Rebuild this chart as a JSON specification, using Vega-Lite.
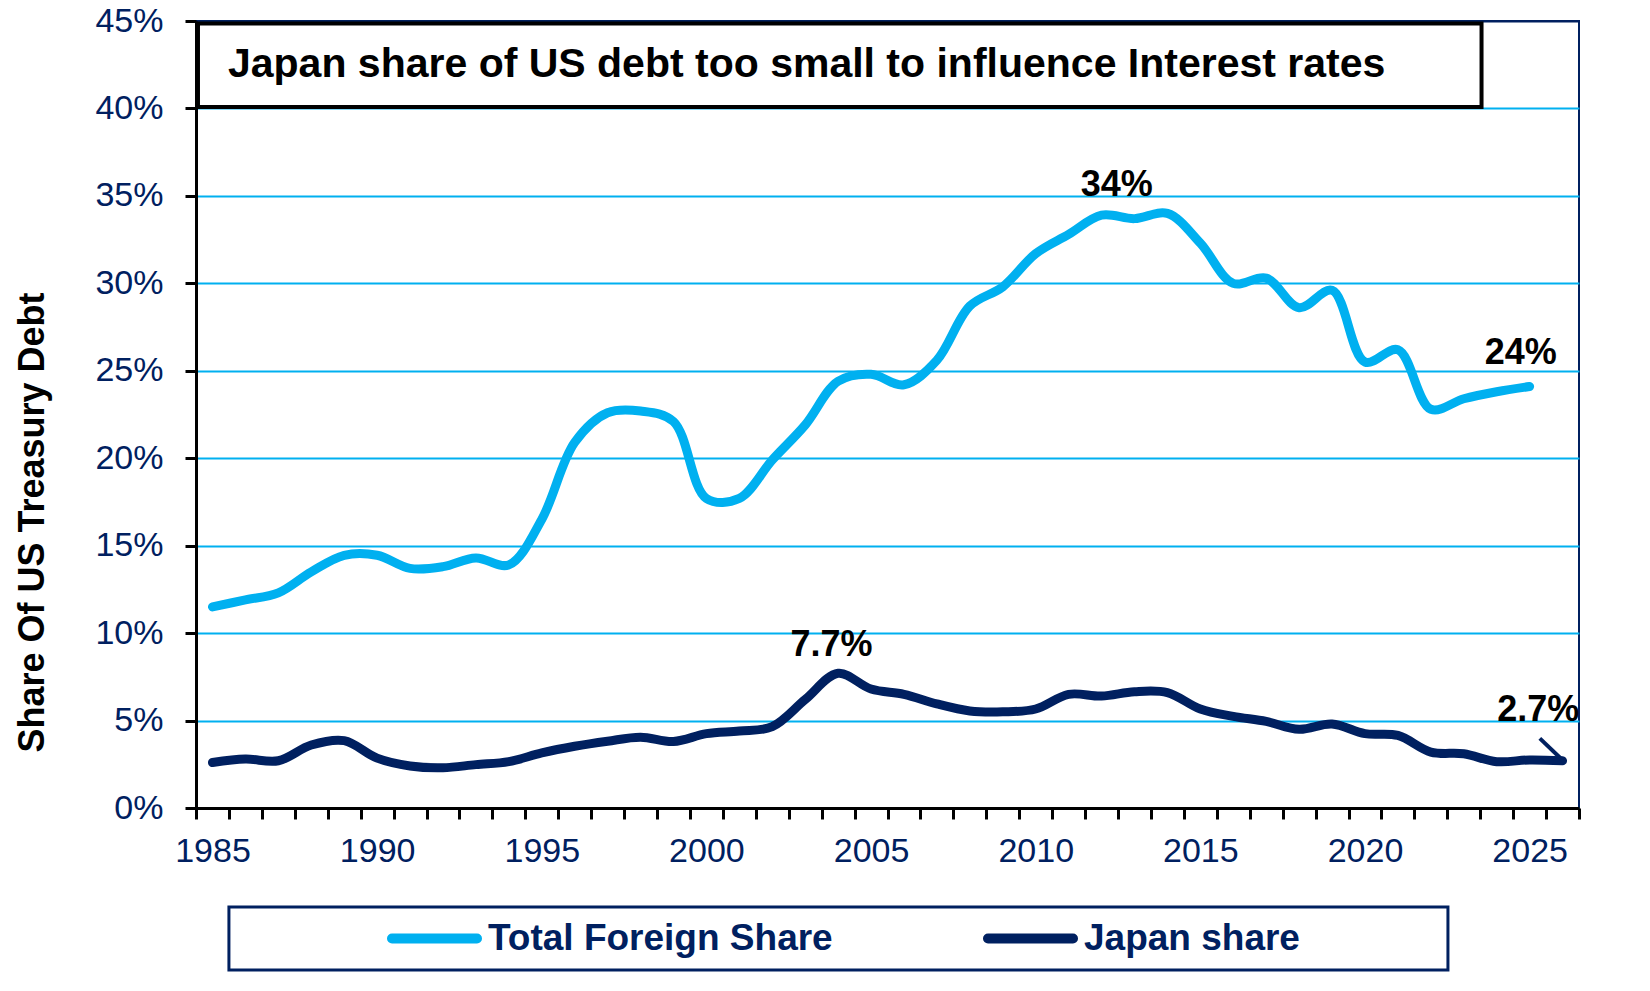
{
  "$schema": "https://vega.github.io/schema/vega-lite/v6.json",
  "width": 1383,
  "height": 787,
  "autosize": {"type": "none"},
  "padding": {"left": 196, "top": 21, "right": 71, "bottom": 183},
  "background": "white",
  "config": {
    "font": "Liberation Sans",
    "view": {"stroke": "#002060", "strokeWidth": 2},
    "axis": {"labelOverlap": false, "labelFlush": false}
  },
  "layer": [
    {
      "data": {
        "values": [
          {"year": 1985, "series": "Total Foreign Share", "share": 0.115},
          {"year": 1986, "series": "Total Foreign Share", "share": 0.119},
          {"year": 1987, "series": "Total Foreign Share", "share": 0.123},
          {"year": 1988, "series": "Total Foreign Share", "share": 0.135},
          {"year": 1989, "series": "Total Foreign Share", "share": 0.1445},
          {"year": 1990, "series": "Total Foreign Share", "share": 0.1445},
          {"year": 1991, "series": "Total Foreign Share", "share": 0.137},
          {"year": 1992, "series": "Total Foreign Share", "share": 0.138},
          {"year": 1993, "series": "Total Foreign Share", "share": 0.143},
          {"year": 1994, "series": "Total Foreign Share", "share": 0.139},
          {"year": 1995, "series": "Total Foreign Share", "share": 0.165},
          {"year": 1996, "series": "Total Foreign Share", "share": 0.209},
          {"year": 1997, "series": "Total Foreign Share", "share": 0.226},
          {"year": 1998, "series": "Total Foreign Share", "share": 0.227},
          {"year": 1999, "series": "Total Foreign Share", "share": 0.221},
          {"year": 2000, "series": "Total Foreign Share", "share": 0.177},
          {"year": 2001, "series": "Total Foreign Share", "share": 0.177},
          {"year": 2002, "series": "Total Foreign Share", "share": 0.199},
          {"year": 2003, "series": "Total Foreign Share", "share": 0.219},
          {"year": 2004, "series": "Total Foreign Share", "share": 0.244},
          {"year": 2005, "series": "Total Foreign Share", "share": 0.248},
          {"year": 2006, "series": "Total Foreign Share", "share": 0.242},
          {"year": 2007, "series": "Total Foreign Share", "share": 0.256},
          {"year": 2008, "series": "Total Foreign Share", "share": 0.287},
          {"year": 2009, "series": "Total Foreign Share", "share": 0.298},
          {"year": 2010, "series": "Total Foreign Share", "share": 0.317},
          {"year": 2011, "series": "Total Foreign Share", "share": 0.328},
          {"year": 2012, "series": "Total Foreign Share", "share": 0.339},
          {"year": 2013, "series": "Total Foreign Share", "share": 0.337},
          {"year": 2014, "series": "Total Foreign Share", "share": 0.34},
          {"year": 2015, "series": "Total Foreign Share", "share": 0.323},
          {"year": 2016, "series": "Total Foreign Share", "share": 0.3},
          {"year": 2017, "series": "Total Foreign Share", "share": 0.303},
          {"year": 2018, "series": "Total Foreign Share", "share": 0.286},
          {"year": 2019, "series": "Total Foreign Share", "share": 0.296},
          {"year": 2020, "series": "Total Foreign Share", "share": 0.255},
          {"year": 2021, "series": "Total Foreign Share", "share": 0.262},
          {"year": 2022, "series": "Total Foreign Share", "share": 0.228},
          {"year": 2023, "series": "Total Foreign Share", "share": 0.234},
          {"year": 2024, "series": "Total Foreign Share", "share": 0.238},
          {"year": 2025, "series": "Total Foreign Share", "share": 0.241},
          {"year": 1985, "series": "Japan share", "share": 0.026},
          {"year": 1986, "series": "Japan share", "share": 0.028},
          {"year": 1987, "series": "Japan share", "share": 0.027},
          {"year": 1988, "series": "Japan share", "share": 0.036},
          {"year": 1989, "series": "Japan share", "share": 0.0385},
          {"year": 1990, "series": "Japan share", "share": 0.0285},
          {"year": 1991, "series": "Japan share", "share": 0.024},
          {"year": 1992, "series": "Japan share", "share": 0.023},
          {"year": 1993, "series": "Japan share", "share": 0.0248},
          {"year": 1994, "series": "Japan share", "share": 0.0265},
          {"year": 1995, "series": "Japan share", "share": 0.0315},
          {"year": 1996, "series": "Japan share", "share": 0.0353},
          {"year": 1997, "series": "Japan share", "share": 0.0382},
          {"year": 1998, "series": "Japan share", "share": 0.0405},
          {"year": 1999, "series": "Japan share", "share": 0.038},
          {"year": 2000, "series": "Japan share", "share": 0.0425},
          {"year": 2001, "series": "Japan share", "share": 0.044},
          {"year": 2002, "series": "Japan share", "share": 0.0465},
          {"year": 2003, "series": "Japan share", "share": 0.062},
          {"year": 2004, "series": "Japan share", "share": 0.077},
          {"year": 2005, "series": "Japan share", "share": 0.068},
          {"year": 2006, "series": "Japan share", "share": 0.065},
          {"year": 2007, "series": "Japan share", "share": 0.0595},
          {"year": 2008, "series": "Japan share", "share": 0.0555},
          {"year": 2009, "series": "Japan share", "share": 0.055},
          {"year": 2010, "series": "Japan share", "share": 0.0566},
          {"year": 2011, "series": "Japan share", "share": 0.065},
          {"year": 2012, "series": "Japan share", "share": 0.064},
          {"year": 2013, "series": "Japan share", "share": 0.0665},
          {"year": 2014, "series": "Japan share", "share": 0.066},
          {"year": 2015, "series": "Japan share", "share": 0.0566},
          {"year": 2016, "series": "Japan share", "share": 0.0524},
          {"year": 2017, "series": "Japan share", "share": 0.0495},
          {"year": 2018, "series": "Japan share", "share": 0.045},
          {"year": 2019, "series": "Japan share", "share": 0.048},
          {"year": 2020, "series": "Japan share", "share": 0.0425},
          {"year": 2021, "series": "Japan share", "share": 0.0415},
          {"year": 2022, "series": "Japan share", "share": 0.032},
          {"year": 2023, "series": "Japan share", "share": 0.031},
          {"year": 2024, "series": "Japan share", "share": 0.0265},
          {"year": 2025, "series": "Japan share", "share": 0.0275},
          {"year": 2026, "series": "Japan share", "share": 0.027}
        ]
      },
      "mark": {"type": "line", "strokeWidth": 9, "strokeCap": "round", "strokeJoin": "round", "interpolate": "catmull-rom"},
      "encoding": {
        "x": {
          "field": "year",
          "type": "quantitative",
          "scale": {"domain": [1984.5, 2026.5], "nice": false, "zero": false},
          "axis": {
            "title": null,
            "values": [1984.5, 1985.5, 1986.5, 1987.5, 1988.5, 1989.5, 1990.5, 1991.5, 1992.5, 1993.5, 1994.5, 1995.5, 1996.5, 1997.5, 1998.5, 1999.5, 2000.5, 2001.5, 2002.5, 2003.5, 2004.5, 2005.5, 2006.5, 2007.5, 2008.5, 2009.5, 2010.5, 2011.5, 2012.5, 2013.5, 2014.5, 2015.5, 2016.5, 2017.5, 2018.5, 2019.5, 2020.5, 2021.5, 2022.5, 2023.5, 2024.5, 2025.5, 2026.5],
            "tickCount": 100,
            "labelExpr": "round(datum.value + 0.5) % 5 === 0 ? format(round(datum.value + 0.5), 'd') : ''",
            "labelOffset": 16.5,
            "labelFlush": false,
            "labelOverlap": false,
            "labelFontSize": 34,
            "labelColor": "#002060",
            "labelPadding": 15,
            "grid": false,
            "domainColor": "black",
            "domainWidth": 3,
            "tickColor": "black",
            "tickWidth": 3,
            "tickSize": 11
          }
        },
        "y": {
          "field": "share",
          "type": "quantitative",
          "scale": {"domain": [0, 0.45], "nice": false},
          "axis": {
            "title": "Share Of US Treasury Debt",
            "titleFontSize": 36,
            "titleFontWeight": "bold",
            "titleColor": "black",
            "titleX": -153,
            "titleY": 501,
            "titleAngle": 270,
            "titleAlign": "center",
            "titleBaseline": "alphabetic",
            "values": [0, 0.05, 0.1, 0.15, 0.2, 0.25, 0.3, 0.35, 0.4, 0.45],
            "tickCount": 20,
            "format": ".0%",
            "labelFontSize": 34,
            "labelColor": "#002060",
            "labelPadding": 22,
            "grid": true,
            "gridColor": {"condition": {"test": "datum.value >= 0.449", "value": "#002060"}, "value": "#00B0F0"},
            "gridWidth": 2,
            "domainColor": "black",
            "domainWidth": 3,
            "tickColor": "black",
            "tickWidth": 3,
            "tickSize": 11
          }
        },
        "color": {
          "field": "series",
          "type": "nominal",
          "scale": {"domain": ["Total Foreign Share", "Japan share"], "range": ["#00B0F0", "#002060"]},
          "legend": {
            "orient": "none",
            "legendX": 178,
            "legendY": 886,
            "direction": "horizontal",
            "title": null,
            "symbolType": "stroke",
            "symbolSize": 7225,
            "symbolStrokeWidth": 10,
            "labelFontSize": 37,
            "labelFontWeight": "bold",
            "labelColor": "#002060",
            "labelOffset": 6,
            "labelLimit": 800,
            "columnPadding": 150,
            "padding": 13,
            "clipHeight": 37,
            "encode": {
              "symbols": {"update": {"strokeCap": {"value": "round"}}}
            }
          }
        }
      }
    },
    {
      "data": {"values": [{"title": "Japan share of US debt too small to influence Interest rates"}]},
      "mark": {"type": "rect", "fill": "white", "stroke": "black", "strokeWidth": 4},
      "encoding": {
        "x": {"datum": 1984.56, "type": "quantitative"},
        "x2": {"datum": 2023.54},
        "y": {"datum": 0.4486, "type": "quantitative"},
        "y2": {"datum": 0.4008}
      }
    },
    {
      "data": {"values": [{"title": "Japan share of US debt too small to influence Interest rates"}]},
      "mark": {"type": "text", "align": "left", "baseline": "middle", "fontSize": 41, "fontWeight": "bold", "color": "black"},
      "encoding": {
        "x": {"datum": 1985.47, "type": "quantitative"},
        "y": {"datum": 0.4248, "type": "quantitative"},
        "text": {"field": "title"}
      }
    },
    {
      "data": {"values": [{"x_from": 1985.5, "x_to": 2022.52, "y_from": -0.0566, "y_to": -0.0926}]},
      "mark": {"type": "rect", "fill": null, "fillOpacity": 0, "stroke": "#002060", "strokeWidth": 3},
      "encoding": {
        "x": {"field": "x_from", "type": "quantitative"},
        "x2": {"field": "x_to"},
        "y": {"field": "y_from", "type": "quantitative"},
        "y2": {"field": "y_to"}
      }
    },
    {
      "data": {
        "values": [
          {"year": 2012.46, "share": 0.356, "label": "34%"},
          {"year": 2024.73, "share": 0.26, "label": "24%"},
          {"year": 2003.8, "share": 0.093, "label": "7.7%"},
          {"year": 2025.26, "share": 0.0562, "label": "2.7%"}
        ]
      },
      "mark": {"type": "text", "align": "center", "baseline": "middle", "fontSize": 36, "fontWeight": "bold", "color": "black"},
      "encoding": {
        "x": {"field": "year", "type": "quantitative"},
        "y": {"field": "share", "type": "quantitative"},
        "text": {"field": "label"}
      }
    },
    {
      "data": {"values": [{"year": 2025.31, "share": 0.0398, "year_end": 2026.02, "share_end": 0.027}]},
      "mark": {"type": "rule", "color": "#002060", "strokeWidth": 4},
      "encoding": {
        "x": {"field": "year", "type": "quantitative"},
        "y": {"field": "share", "type": "quantitative"},
        "x2": {"field": "year_end"},
        "y2": {"field": "share_end"}
      }
    }
  ]
}
